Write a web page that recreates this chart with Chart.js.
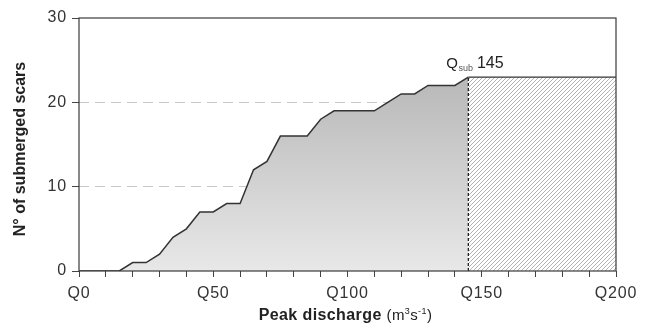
<!DOCTYPE html>
<html>
<head>
<meta charset="utf-8">
<script src="https://cdn.jsdelivr.net/npm/chart.js@4.4.1/dist/chart.umd.min.js"></script>
<style>
html,body{margin:0;padding:0;background:#fff;}
#c{display:block;}
</style>
</head>
<body>
<canvas id="c" width="649" height="330"></canvas>
<script>
// ---- data ----
const discharge = [0, 15, 20, 25, 30, 35, 40, 45, 50, 55, 60, 65, 70, 75, 80, 85, 90, 95, 100, 105, 110, 115, 120, 125, 130, 135, 140, 145];
const submergedScars = [0, 0, 1, 1, 2, 4, 5, 7, 7, 8, 8, 12, 13, 16, 16, 16, 18, 19, 19, 19, 19, 20, 21, 21, 22, 22, 22, 23];
const qSub = 145;
const qSubScars = 23;
const xMax = 200;
const xTickValues = [0, 50, 100, 150, 200];
const xTickLabels = ['Q0', 'Q50', 'Q100', 'Q150', 'Q200'];
const yTickValues = [0, 10, 20, 30];

const FONT = "'Liberation Sans', Arial, sans-serif";

// hatch pattern
function makeHatch() {
  const p = document.createElement('canvas');
  p.width = 4; p.height = 4;
  const g = p.getContext('2d');
  g.fillStyle = '#ffffff';
  g.fillRect(0, 0, 4, 4);
  g.strokeStyle = '#ababab';
  g.lineWidth = 0.9;
  g.beginPath();
  g.moveTo(0, 4); g.lineTo(4, 0);
  g.moveTo(-1, 1); g.lineTo(1, -1);
  g.moveTo(3, 5); g.lineTo(5, 3);
  g.stroke();
  return g.createPattern(p, 'repeat');
}
const ctx0 = document.getElementById('c').getContext('2d');
const hatch = makeHatch();

const curveData = discharge.map((x, i) => ({x: x, y: submergedScars[i]}));
const hatchData = [{x: qSub, y: qSubScars}, {x: xMax, y: qSubScars}];
const dashData = [{x: qSub, y: 0}, {x: qSub, y: qSubScars}];

const framePlugin = {
  id: 'frame',
  beforeDraw(chart) {
    try { chart.ctx.letterSpacing = '0.8px'; } catch (e) {}
  },
  afterDatasetsDraw(chart) {
    const {ctx, chartArea: a} = chart;
    ctx.save();
    ctx.strokeStyle = '#3a3a3a';
    ctx.lineWidth = 1.2;
    ctx.strokeRect(a.left, a.top, a.right - a.left, a.bottom - a.top);
    ctx.restore();
  },
  afterDraw(chart) {
    const {ctx, chartArea: a, scales} = chart;
    const xs = scales.x, ys = scales.y;
    ctx.save();
    try { ctx.letterSpacing = '0px'; } catch (e) {}
    // annotation Q_sub 145
    const ax = xs.getPixelForValue(qSub) - 22;
    const ay = ys.getPixelForValue(qSubScars) - 9;
    ctx.fillStyle = '#222';
    ctx.textBaseline = 'alphabetic';
    ctx.textAlign = 'left';
    ctx.font = '15px ' + FONT;
    ctx.fillText('Q', ax, ay);
    let w = ctx.measureText('Q').width;
    ctx.font = '9px ' + FONT;
    ctx.fillStyle = '#555';
    ctx.fillText('sub', ax + w + 0.5, ay + 3);
    w += ctx.measureText('sub').width;
    ctx.font = '16px ' + FONT;
    ctx.fillStyle = '#222';
    ctx.fillText(' 145', ax + w, ay);

    // x title
    const parts = [
      {t: 'Peak discharge ', f: 'bold 16px ' + FONT, dy: 0},
      {t: '(m', f: '15px ' + FONT, dy: 0},
      {t: '3', f: '9px ' + FONT, dy: -6},
      {t: 's', f: '15px ' + FONT, dy: 0},
      {t: '-1', f: '9px ' + FONT, dy: -6},
      {t: ')', f: '15px ' + FONT, dy: 0}
    ];
    let total = 0;
    try { ctx.letterSpacing = '0.4px'; } catch (e) {}
    parts.forEach(p => { ctx.font = p.f; p.w = ctx.measureText(p.t).width; total += p.w; });
    let x = (a.left + a.right) / 2 - total / 2 - 2;
    const by = 320;
    ctx.fillStyle = '#222';
    parts.forEach(p => { ctx.font = p.f; ctx.fillText(p.t, x, by + p.dy); x += p.w; });

    // y title
    try { ctx.letterSpacing = '0px'; } catch (e) {}
    ctx.translate(25, 149);
    ctx.rotate(-Math.PI / 2);
    ctx.textAlign = 'center';
    ctx.font = 'bold 16px ' + FONT;
    ctx.fillText('N\u00b0 of submerged scars', 0, 0);
    ctx.restore();
  }
};

new Chart(document.getElementById('c'), {
  type: 'line',
  data: {
    datasets: [
      {
        data: curveData,
        borderColor: '#333',
        borderWidth: 1.5,
        pointRadius: 0,
        tension: 0,
        fill: 'origin',
        backgroundColor(context) {
          const {chart} = context;
          const a = chart.chartArea;
          if (!a) return '#ccc';
          const ys = chart.scales.y;
          const g = chart.ctx.createLinearGradient(0, ys.getPixelForValue(qSubScars), 0, a.bottom);
          g.addColorStop(0, '#b8b8b8');
          g.addColorStop(1, '#e8e8e8');
          return g;
        },
        order: 2
      },
      {
        data: hatchData,
        borderColor: '#333',
        borderWidth: 1.3,
        pointRadius: 0,
        fill: 'origin',
        backgroundColor: hatch,
        order: 3
      },
      {
        data: dashData,
        borderColor: '#111',
        borderWidth: 1.2,
        borderDash: [3, 2],
        pointRadius: 0,
        fill: false,
        order: 1
      }
    ]
  },
  options: {
    responsive: false,
    devicePixelRatio: 1,
    animation: false,
    parsing: true,
    layout: {padding: {top: 18, right: 33, left: 0, bottom: 0}},
    plugins: {legend: {display: false}, tooltip: {enabled: false}},
    scales: {
      x: {
        type: 'linear',
        min: 0,
        max: xMax,
        afterFit(s) { s.height = 59; },
        afterBuildTicks(s) {
          const t = [];
          for (let v = 0; v <= xMax; v += 10) t.push({value: v});
          s.ticks = t;
        },
        ticks: {
          autoSkip: false,
          maxRotation: 0,
          padding: 7,
          color: '#333',
          font: {family: FONT, size: 16},
          callback(v) {
            const i = xTickValues.indexOf(v);
            return i >= 0 ? xTickLabels[i] : '';
          }
        },
        grid: {drawOnChartArea: false, drawTicks: true, tickLength: 6, tickColor: '#444', tickWidth: 1, color: '#444'},
        border: {display: false}
      },
      y: {
        type: 'linear',
        min: 0,
        max: 30,
        afterFit(s) { s.width = 79; },
        afterBuildTicks(s) { s.ticks = yTickValues.map(v => ({value: v})); },
        ticks: {
          padding: 5,
          color: '#333',
          font: {family: FONT, size: 16}
        },
        grid: {
          drawTicks: true,
          tickLength: 7,
          tickColor: '#444',
          lineWidth: 1,
          color(c) { const v = c.tick && c.tick.value; return (v === 10 || v === 20) ? '#c9c9c9' : 'rgba(0,0,0,0)'; }
        },
        border: {display: false, dash: [10, 6]}
      }
    }
  },
  plugins: [framePlugin]
});
</script>
</body>
</html>
